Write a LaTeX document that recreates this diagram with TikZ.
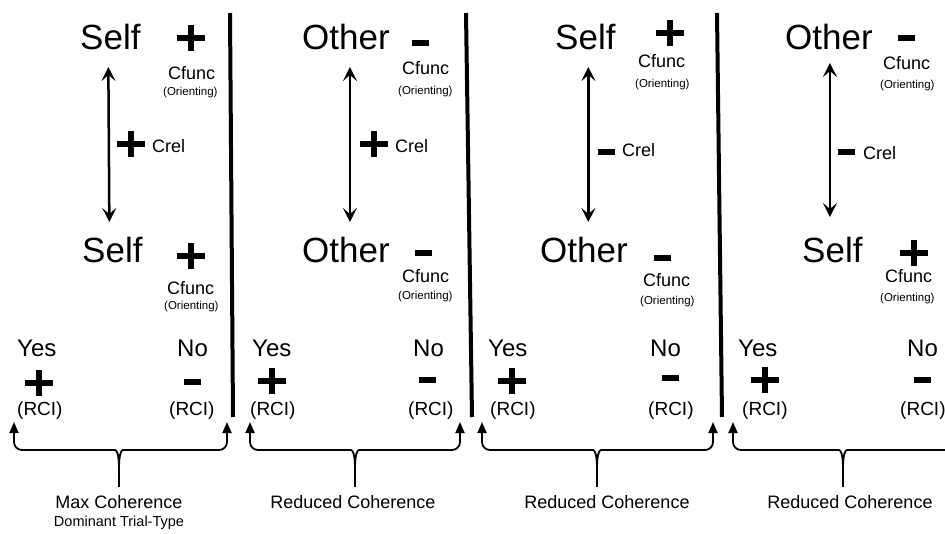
\documentclass[tikz,border=0pt]{standalone}
\usepackage{fontspec}
\setmainfont{Liberation Sans}
\usetikzlibrary{arrows.meta,calc}

\newcommand{\fs}[1]{\fontsize{#1}{#1}\selectfont}

\tikzset{
  word/.style={anchor=base west,inner sep=0pt,font=\fs{35}},
  cfunc/.style={anchor=base west,inner sep=0pt,font=\fs{18}},
  orient/.style={anchor=base west,inner sep=0pt,font=\fs{11.5}},
  crel/.style={anchor=base west,inner sep=0pt,font=\fs{18}},
  answer/.style={anchor=base west,inner sep=0pt,font=\fs{24}},
  rci/.style={anchor=base west,inner sep=0pt,font=\fs{19}},
  caption/.style={anchor=base,inner sep=0pt,font=\fs{18}},
  subcaption/.style={anchor=base,inner sep=0pt,font=\fs{14.5}},
  divider/.style={line width=4pt},
  relarrow/.style={line width=2.5pt,{Stealth[length=14pt,width=14pt,inset=6pt]}-{Stealth[length=14pt,width=14pt,inset=6pt]}},
  bracearm/.style={line width=1.8pt,rounded corners=8pt,-{Triangle[length=11pt,width=9pt]}},
  bracestem/.style={line width=1.8pt},
  plussign/.pic={\fill (-14,-2.9) rectangle (14,2.9); \fill (-2.9,-13) rectangle (2.9,13);},
  minussign/.pic={\fill (-8.5,-2.7) rectangle (8.5,2.7);}
}

% curly brace with arrow-tipped arms: #1 left tip x, #2 right tip x, #3 centre x, #4 name
\newcommand{\arrowbrace}[4]{%
  \coordinate (#4-l) at (#1,422);
  \coordinate (#4-r) at (#2,422);
  \coordinate (#4-c) at (#3,487);
  \draw[bracearm] ($(#4-c)+(0,-18)$) .. controls ($(#4-c)+(0,-32)$) and ($(#4-c)+(-2,-37)$) .. ($(#4-c)+(-12,-37)$) -- (#1,450) -- (#4-l);
  \draw[bracearm] ($(#4-c)+(0,-18)$) .. controls ($(#4-c)+(0,-32)$) and ($(#4-c)+(2,-37)$) .. ($(#4-c)+(12,-37)$) -- (#2,450) -- (#4-r);
  \draw[bracestem] ($(#4-c)+(0,-18.5)$) -- (#4-c);
}

\begin{document}
\begin{tikzpicture}[x=1pt,y=-1pt]
\useasboundingbox (0,0) rectangle (945,534);
\clip (0,0) rectangle (945,534);

% column dividers
\draw[divider] (230,13) -- (233,417);
\draw[divider] (466,13) -- (472,417);
\draw[divider] (717,13) -- (722,417);

% ---- column 1: Self / Self ----
\node[word] (s1t) at (80,50) {Self};
\pic at (191,38) {plussign};
\node[cfunc] (c1t) at (168,80) {Cfunc};
\node[orient] (o1t) at (163,96) {(Orienting)};
\node[word] (s1b) at (82,263) {Self};
\pic at (191,256) {plussign};
\node[cfunc] (c1b) at (167,295) {Cfunc};
\node[orient] (o1b) at (164,310) {(Orienting)};
\draw[relarrow] ($(s1t.base)+(-2,17)$) -- ($(s1b.base)+(-3,-41)$);
\pic at (131,144) {plussign};
\node[crel] (r1) at (152,153) {Crel};

% ---- column 2: Other / Other ----
\node[word] (s2t) at (302,50) {Other};
\pic at (420,43) {minussign};
\node[cfunc] (c2t) at (402,75) {Cfunc};
\node[orient] (o2t) at (398,95) {(Orienting)};
\node[word] (s2b) at (302,263) {Other};
\pic at (423,253) {minussign};
\node[cfunc] (c2b) at (402,283) {Cfunc};
\node[orient] (o2b) at (398,300) {(Orienting)};
\draw[relarrow] ($(s2t.base)+(4,17)$) -- ($(s2b.base)+(4,-41)$);
\pic at (374,144) {plussign};
\node[crel] (r2) at (395,153) {Crel};

% ---- column 3: Self / Other ----
\node[word] (s3t) at (555,50) {Self};
\pic at (670,33) {plussign};
\node[cfunc] (c3t) at (638,68) {Cfunc};
\node[orient] (o3t) at (635,88) {(Orienting)};
\node[word] (s3b) at (540,263) {Other};
\pic at (662,258) {minussign};
\node[cfunc] (c3b) at (643,287) {Cfunc};
\node[orient] (o3b) at (640,305) {(Orienting)};
\draw[relarrow] ($(s3t.base)+(3,17)$) -- ($(s3t.base |- s3b.base)+(3,-41)$);
\pic at (606,152) {minussign};
\node[crel] (r3) at (622,157) {Crel};

% ---- column 4: Other / Self ----
\node[word] (s4t) at (785,50) {Other};
\pic at (906,38) {minussign};
\node[cfunc] (c4t) at (883,70) {Cfunc};
\node[orient] (o4t) at (880,89) {(Orienting)};
\node[word] (s4b) at (802,263) {Self};
\pic at (914,253) {plussign};
\node[cfunc] (c4b) at (885,283) {Cfunc};
\node[orient] (o4b) at (880,302) {(Orienting)};
\draw[relarrow] ($(s4t.base)+(1,13)$) -- ($(s4t.base |- s4b.base)+(1,-46)$);
\pic at (846,152) {minussign};
\node[crel] (r4) at (863,160) {Crel};

% ---- Yes / No responses ----
\node[answer] (y1) at (17,357) {Yes};
\pic at (39,383) {plussign};
\node[rci] (ry1) at (17,416) {(RCI)};
\node[answer] (n1) at (177,357) {No};
\pic at (192,382) {minussign};
\node[rci] (rn1) at (169,416) {(RCI)};

\node[answer] (y2) at (252,357) {Yes};
\pic at (272,381) {plussign};
\node[rci] (ry2) at (250,416) {(RCI)};
\node[answer] (n2) at (413,357) {No};
\pic at (427,380) {minussign};
\node[rci] (rn2) at (408,416) {(RCI)};

\node[answer] (y3) at (488,357) {Yes};
\pic at (512,381) {plussign};
\node[rci] (ry3) at (490,416) {(RCI)};
\node[answer] (n3) at (650,357) {No};
\pic at (670,378) {minussign};
\node[rci] (rn3) at (648,416) {(RCI)};

\node[answer] (y4) at (738,357) {Yes};
\pic at (765,380) {plussign};
\node[rci] (ry4) at (742,416) {(RCI)};
\node[answer] (n4) at (907,357) {No};
\pic at (922,380) {minussign};
\node[rci] (rn4) at (900,416) {(RCI)};

% ---- braces and captions ----
\arrowbrace{14}{227}{119}{b1}
\arrowbrace{250}{460}{355}{b2}
\arrowbrace{482}{713}{597}{b3}
\arrowbrace{733}{1060}{843}{b4}

\node[caption] (t1) at (119,508) {Max Coherence};
\node[subcaption] (t1s) at (119,526) {Dominant Trial-Type};
\node[caption] (t2) at (353,508) {Reduced Coherence};
\node[caption] (t3) at (607,508) {Reduced Coherence};
\node[caption] (t4) at (850,508) {Reduced Coherence};
\end{tikzpicture}
\end{document}
